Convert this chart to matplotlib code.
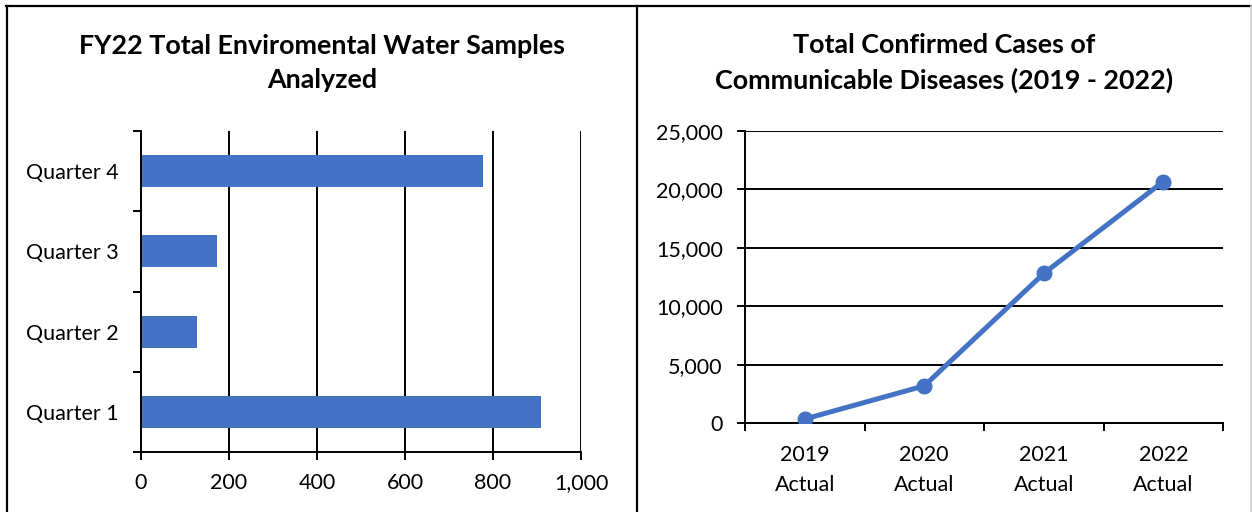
import matplotlib
matplotlib.use("Agg")
import matplotlib.pyplot as plt
from matplotlib.lines import Line2D
from matplotlib.ticker import FixedLocator, FuncFormatter, MultipleLocator

plt.rcParams["font.family"] = ["Lato", "DejaVu Sans"]

W, H = 1252, 512
BLUE = "#4472C4"

# FY22 water samples by quarter
quarters = ["Quarter 1", "Quarter 2", "Quarter 3", "Quarter 4"]
samples = [909, 128, 172, 777]

# communicable disease cases by year
years = ["2019\nActual", "2020\nActual", "2021\nActual", "2022\nActual"]
cases = [340, 3180, 12800, 20670]

thousands = FuncFormatter(lambda v, _: f"{v:,.0f}")


def px_rect(left, top, right, bottom):
    """Axes rectangle in figure fractions from pixel edges."""
    return [left / W, (H - bottom) / H, (right - left) / W, (bottom - top) / H]


def px_line(fig, xs, ys, color="black", lw=1.5):
    fig.add_artist(Line2D([x / W for x in xs], [(H - y) / H for y in ys],
                          transform=fig.transFigure, color=color, lw=lw))


fig = plt.figure(figsize=(W / 100, H / 100), dpi=100)

# panel borders
px_line(fig, [6, 1251], [6, 6], lw=1.6)
px_line(fig, [7, 7], [6, 512], lw=1.6)
px_line(fig, [637, 637], [6, 512], lw=1.6)
px_line(fig, [1251, 1251], [6, 512], color="#d0d0d0", lw=1.2)

# --- left: horizontal bars ---
ax1 = fig.add_axes(px_rect(141, 131, 581, 452))
pos = range(len(quarters))
ax1.barh(pos, samples, height=0.4, color=BLUE, zorder=3)
ax1.set_xlim(0, 1000)
ax1.set_ylim(-0.5, len(quarters) - 0.5)
ax1.xaxis.set_major_locator(MultipleLocator(200))
ax1.xaxis.set_major_formatter(thousands)
ax1.set_yticks(list(pos))
ax1.set_yticklabels(quarters)
ax1.yaxis.set_minor_locator(FixedLocator([i - 0.5 for i in range(len(quarters) + 1)]))
ax1.tick_params(axis="y", which="major", length=0, pad=16, labelsize=15.5)
ax1.tick_params(axis="y", which="minor", length=6, width=1.4, direction="out")
ax1.tick_params(axis="x", length=6, width=1.4, pad=9, labelsize=15.5)
ax1.grid(axis="x", color="black", lw=1.4, zorder=1)
for s in ("top", "right"):
    ax1.spines[s].set_visible(False)
for s in ("left", "bottom"):
    ax1.spines[s].set_linewidth(1.4)
    ax1.spines[s].set_zorder(4)
fig.text(322 / W, 1 - 63 / H, "FY22 Total Enviromental Water Samples\nAnalyzed",
         ha="center", va="center", fontsize=19.4, fontweight="bold", linespacing=1.55)

# --- right: line chart ---
ax2 = fig.add_axes(px_rect(745, 131, 1223, 423))
xs = range(len(years))
ax2.plot(xs, cases, color=BLUE, lw=3.6, marker="o", markersize=10.5, zorder=3)
ax2.set_xlim(-0.5, len(years) - 0.5)
ax2.set_ylim(0, 25000)
ax2.yaxis.set_major_locator(MultipleLocator(5000))
ax2.yaxis.set_major_formatter(thousands)
ax2.set_xticks(list(xs))
ax2.set_xticklabels(years, linespacing=1.6)
ax2.xaxis.set_minor_locator(FixedLocator([i - 0.5 for i in range(len(years) + 1)]))
ax2.tick_params(axis="x", which="major", length=0, pad=16, labelsize=15.5)
ax2.tick_params(axis="x", which="minor", length=6, width=1.4, direction="out")
ax2.tick_params(axis="y", length=6, width=1.4, pad=10, labelsize=15.5)
ax2.grid(axis="y", color="black", lw=1.4, zorder=1)
for s in ("top", "right"):
    ax2.spines[s].set_visible(False)
for s in ("left", "bottom"):
    ax2.spines[s].set_linewidth(1.4)
fig.text(944 / W, 1 - 63 / H, "Total Confirmed Cases of\nCommunicable Diseases (2019 - 2022)",
         ha="center", va="center", fontsize=19.4, fontweight="bold", linespacing=1.55)

fig.savefig("out.png", dpi=100, facecolor="white")
